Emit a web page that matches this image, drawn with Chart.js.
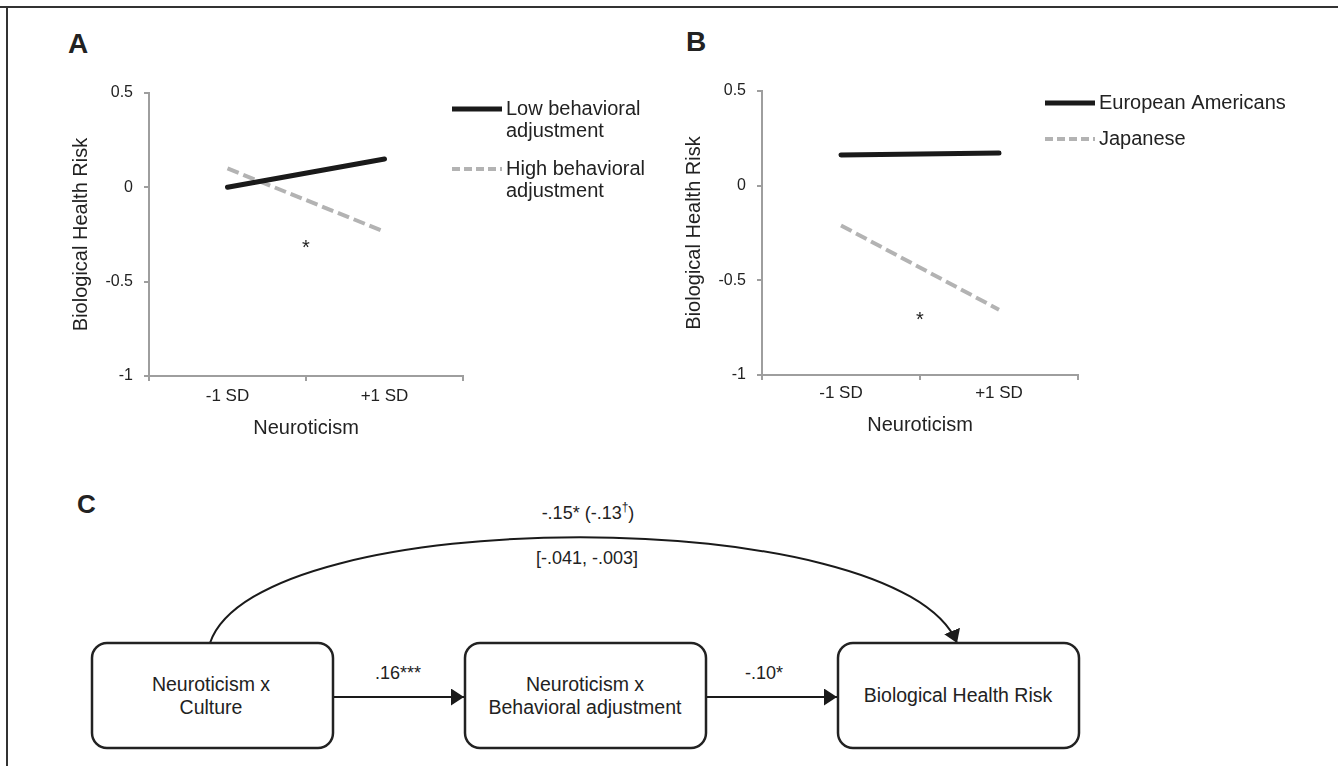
<!DOCTYPE html>
<html>
<head>
<meta charset="utf-8">
<script src="https://cdn.jsdelivr.net/npm/chart.js@4.4.1/dist/chart.umd.min.js"></script>
<style>
html,body{margin:0;padding:0;background:#fff;}
#stage{position:relative;width:1338px;height:766px;overflow:hidden;background:#fff;}
#stage canvas{position:absolute;top:0;}
#cA{left:0;}
#cB{left:670px;}
#diagram{position:absolute;left:0;top:0;}
</style>
</head>
<body>
<div id="stage">
<svg id="diagram" width="1338" height="766" viewBox="0 0 1338 766" font-family="'Liberation Sans', Arial, sans-serif" fill="#222">
  <defs>
    <marker id="ah" markerUnits="userSpaceOnUse" markerWidth="14" markerHeight="18" refX="13" refY="8.5" orient="auto">
      <path d="M0,0 L13,8.5 L0,17 z" fill="#1a1a1a"/>
    </marker>
  </defs>
  <!-- frame -->
  <line x1="0" y1="7" x2="1338" y2="7" stroke="#333" stroke-width="2"/>
  <line x1="7" y1="7" x2="7" y2="766" stroke="#333" stroke-width="2"/>
  <!-- panel letters -->
  <text x="68" y="53" font-size="28" font-weight="bold">A</text>
  <text x="686" y="51" font-size="28" font-weight="bold">B</text>
  <text x="77" y="513" font-size="26" font-weight="bold">C</text>
  <!-- arc path -->
  <path d="M210,643 C258,502 900,502 957,643" fill="none" stroke="#1a1a1a" stroke-width="2" marker-end="url(#ah)"/>
  <text x="588" y="513" font-size="18" text-anchor="middle" dominant-baseline="central">-.15* (-.13<tspan font-size="12" dy="-6">†</tspan><tspan dy="6">)</tspan></text>
  <text x="587" y="558" font-size="18" text-anchor="middle" dominant-baseline="central">[-.041, -.003]</text>
  <!-- boxes -->
  <rect x="92" y="643" width="241" height="105" rx="15" ry="15" fill="#fff" stroke="#222" stroke-width="2.5"/>
  <rect x="465" y="643" width="241" height="105" rx="15" ry="15" fill="#fff" stroke="#222" stroke-width="2.5"/>
  <rect x="838" y="643" width="241" height="105" rx="15" ry="15" fill="#fff" stroke="#222" stroke-width="2.5"/>
  <text x="211" y="684" font-size="19.5" text-anchor="middle" dominant-baseline="central">Neuroticism x</text>
  <text x="211" y="707" font-size="19.5" text-anchor="middle" dominant-baseline="central">Culture</text>
  <text x="585" y="684" font-size="19.5" text-anchor="middle" dominant-baseline="central">Neuroticism x</text>
  <text x="585" y="707" font-size="19.5" text-anchor="middle" dominant-baseline="central">Behavioral adjustment</text>
  <text x="958" y="695" font-size="19.5" text-anchor="middle" dominant-baseline="central">Biological Health Risk</text>
  <!-- straight arrows -->
  <line x1="334" y1="697" x2="464" y2="697" stroke="#1a1a1a" stroke-width="2" marker-end="url(#ah)"/>
  <line x1="707" y1="697" x2="837" y2="697" stroke="#1a1a1a" stroke-width="2" marker-end="url(#ah)"/>
  <text x="398" y="673" font-size="18" text-anchor="middle" dominant-baseline="central">.16***</text>
  <text x="764" y="673" font-size="18" text-anchor="middle" dominant-baseline="central">-.10*</text>
</svg>
<canvas id="cA" width="670" height="450"></canvas>
<canvas id="cB" width="668" height="450"></canvas>
</div>
<script>
// ---------- data ----------
const categories = ['-1 SD', '+1 SD'];
const yMin = -1, yMax = 0.5, yStep = 0.5;
const yTickLabels = {'0.5': '0.5', '0': '0', '-0.5': '-0.5', '-1': '-1'};

// Panel A
const lowBehavioralAdjustment = [0.0, 0.15];
const highBehavioralAdjustment = [0.10, -0.235];
const legendNamesA = [['Low behavioral', 'adjustment'], ['High behavioral', 'adjustment']];
const starsA = [{x: 0.5, y: -0.295, text: '*'}];

// Panel B
const europeanAmericans = [0.162, 0.172];
const japanese = [-0.21, -0.655];
const legendNamesB = [['European Americans'], ['Japanese']];
const starsB = [{x: 0.5, y: -0.68, text: '*'}];

const axisTitleX = 'Neuroticism';
const axisTitleY = 'Biological Health Risk';

// ---------- styling ----------
const FONT = "'Liberation Sans', Arial, sans-serif";
Chart.defaults.font.family = FONT;
Chart.defaults.color = '#222';
const AXIS = '#9e9e9e';

const sideLegend = {
  id: 'sideLegend',
  afterDraw(chart, args, o) {
    const ctx = chart.ctx;
    ctx.save();
    let y = o.y;
    chart.data.datasets.forEach((ds, i) => {
      const lines = o.names[i];
      ctx.beginPath();
      ctx.setLineDash(ds.borderDash ? o.dash : []);
      ctx.lineWidth = ds.borderWidth;
      ctx.strokeStyle = ds.borderColor;
      ctx.lineCap = 'butt';
      ctx.moveTo(o.x, y);
      ctx.lineTo(o.x + o.len, y);
      ctx.stroke();
      ctx.setLineDash([]);
      ctx.fillStyle = '#222';
      ctx.font = o.fontSize + 'px ' + FONT;
      ctx.textAlign = 'left';
      ctx.textBaseline = 'middle';
      lines.forEach((t, k) => ctx.fillText(t, o.x + o.len + o.textGap, y + k * o.lineHeight));
      y += lines.length * o.lineHeight + o.itemGap;
    });
    ctx.restore();
  }
};

const starMarks = {
  id: 'starMarks',
  afterDatasetsDraw(chart, args, o) {
    const ctx = chart.ctx, xs = chart.scales.x, ys = chart.scales.y;
    ctx.save();
    ctx.fillStyle = '#222';
    ctx.font = o.size + 'px ' + FONT;
    ctx.textAlign = 'center';
    ctx.textBaseline = 'alphabetic';
    o.items.forEach(s => {
      ctx.fillText(s.text, xs.getPixelForValue(s.x), ys.getPixelForValue(s.y) + 0.57 * o.size);
    });
    ctx.restore();
  }
};

function makeChart(id, d1, d2, names, stars, lay) {
  return new Chart(document.getElementById(id), {
    type: 'line',
    data: {
      labels: categories,
      datasets: [
        {label: names[0].join(' '), data: d1, borderColor: '#1a1a1a', borderWidth: 5,
         pointRadius: 0, borderCapStyle: 'round', tension: 0},
        {label: names[1].join(' '), data: d2, borderColor: '#b3b3b3', borderWidth: 4,
         borderDash: [12, 5], pointRadius: 0, tension: 0}
      ]
    },
    options: {
      responsive: false,
      animation: false,
      devicePixelRatio: 1,
      layout: {padding: lay.padding},
      plugins: {
        legend: {display: false},
        tooltip: {enabled: false},
        sideLegend: {names: names, x: lay.legX, y: lay.legY, len: 50, textGap: 4, fontSize: 20,
                     lineHeight: 22, itemGap: lay.itemGap, dash: [8, 4]},
        starMarks: {items: stars, size: 20}
      },
      scales: {
        x: {
          type: 'category', offset: true,
          grid: {offset: true, drawOnChartArea: false, drawTicks: true, tickLength: 5, color: AXIS, lineWidth: 2},
          border: {color: AXIS, width: 2},
          ticks: {color: '#222', font: {size: 17}, padding: lay.xPad, maxRotation: 0},
          title: {display: true, text: axisTitleX, color: '#222', font: {size: 20}, padding: 0},
          afterFit(s) { s.height = lay.xH; }
        },
        y: {
          min: yMin, max: yMax,
          ticks: {stepSize: yStep, color: '#222', font: {size: 16}, padding: 11,
                  callback: v => yTickLabels[String(v)] ?? String(v)},
          grid: {drawOnChartArea: false, drawTicks: true, tickLength: 5, color: AXIS, lineWidth: 2},
          border: {color: AXIS, width: 2},
          title: {display: true, text: axisTitleY, color: '#222', font: {size: 20}, padding: 0},
          afterFit(s) { s.width = lay.yW; }
        }
      }
    },
    plugins: [sideLegend, starMarks]
  });
}

makeChart('cA', lowBehavioralAdjustment, highBehavioralAdjustment, legendNamesA, starsA, {
  padding: {left: 69, top: 93, right: 207, bottom: 10}, yW: 80, xH: 64, xPad: 5,
  legX: 452, legY: 109, itemGap: 16
});
makeChart('cB', europeanAmericans, japanese, legendNamesB, starsB, {
  padding: {left: 12, top: 91, right: 260, bottom: 13}, yW: 80, xH: 62, xPad: 3,
  legX: 375, legY: 103, itemGap: 14
});
</script>
</body>
</html>
